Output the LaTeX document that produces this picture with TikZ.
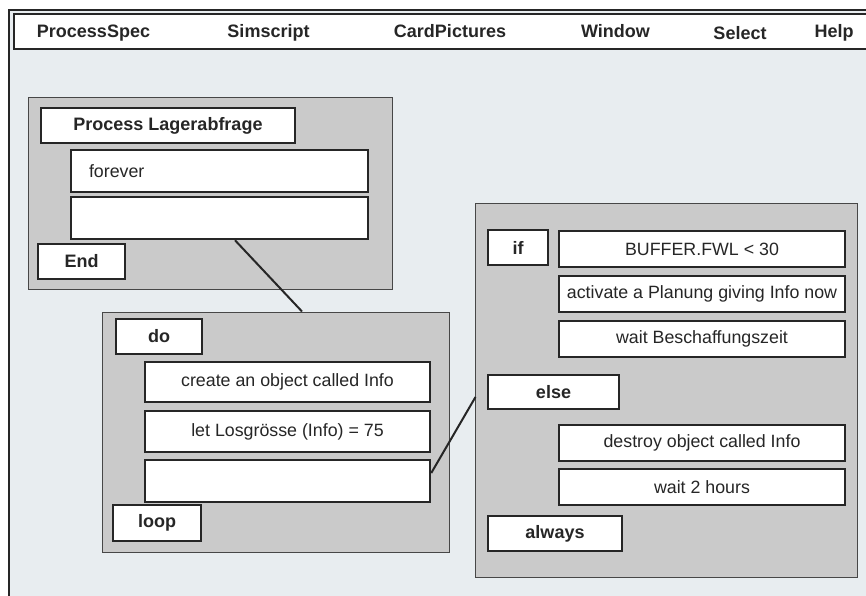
\documentclass[tikz,border=0pt]{standalone}
\usepackage{fontspec}
\setmainfont{Liberation Sans}
\usetikzlibrary{calc}
\definecolor{bgc}{HTML}{E8EDF0}
\definecolor{panelc}{HTML}{CACACA}
\definecolor{inkc}{HTML}{262626}
\tikzset{
  panel/.style={draw=inkc!85, line width=1pt, fill=panelc, inner sep=0pt},
  box/.style={draw=inkc, line width=2.5pt, fill=white, inner sep=0pt, text=inkc,
    font=\fontsize{17.8}{20}\selectfont},
  kw/.style={box, font=\bfseries\fontsize{18}{20}\selectfont},
  menu/.style={anchor=base, text=inkc, inner sep=0pt, font=\bfseries\fontsize{18}{20}\selectfont},
  wire/.style={draw=inkc, line width=2pt}
}
\begin{document}
\begin{tikzpicture}[x=1pt, y=-1pt]
\useasboundingbox (0,0) rectangle (866,596);
\clip (0,0) rectangle (866,596);
\fill[white] (0,0) rectangle (866,596);
% outer frame
\filldraw[fill=bgc, draw=inkc, line width=2pt] (9,10) rectangle (900,640);
% menu bar
\filldraw[fill=white, draw=inkc, line width=2.5pt] (14,14) rectangle (900,49);
\node[menu] (m1) at (93.5,38) {ProcessSpec};
\node[menu] (m2) at (268.5,38) {Simscript};
\node[menu] (m3) at (450,38) {CardPictures};
\node[menu] (m4) at (615.5,38) {Window};
\node[menu] (m5) at (740,40) {Select};
\node[menu] (m6) at (834,38) {Help};

% panel 1
\node[panel, minimum width=364, minimum height=191] (p1) at (210,193.5) {};
\node[kw, minimum width=254, minimum height=35] (title) at (168,125.5) {Process Lagerabfrage};
\node[box, text width=261, inner xsep=18pt, align=left, minimum height=42] (forever) at (219.5,171) {forever};
\node[box, minimum width=297, minimum height=42] (e1) at (219.5,218) {};
\node[kw, minimum width=87, minimum height=35] (end) at (81.5,261.5) {End};

% panel 2
\node[panel, minimum width=347, minimum height=240] (p2) at (275.5,432) {};
\node[kw, minimum width=86, minimum height=35] (do) at (159,336.5) {do};
\node[box, minimum width=285, minimum height=40] (create) at (287.5,382) {create an object called Info};
\node[box, minimum width=285, minimum height=41] (let) at (287.5,431.5) {let Losgrösse (Info) = 75};
\node[box, minimum width=285, minimum height=42] (e2) at (287.5,481) {};
\node[kw, minimum width=88, minimum height=36] (loop) at (157,523) {loop};

% panel 3
\node[panel, minimum width=382, minimum height=374] (p3) at (666,390) {};
\node[kw, minimum width=60, minimum height=35] (if) at (518,247.5) {if};
\node[box, minimum width=286, minimum height=36] (buf) at (702,249) {BUFFER.FWL < 30};
\node[box, minimum width=286, minimum height=36] (act) at (702,294) {activate a Planung giving Info now};
\node[box, minimum width=286, minimum height=36] (waitb) at (702,339) {wait Beschaffungszeit};
\node[kw, minimum width=131, minimum height=34] (else) at (553.5,392) {else};
\node[box, minimum width=286, minimum height=36] (destroy) at (702,443) {destroy object called Info};
\node[box, minimum width=286, minimum height=36] (wait2) at (702,487) {wait 2 hours};
\node[kw, minimum width=134, minimum height=35] (always) at (555,533.5) {always};

% connectors
\draw[wire] ($(e1.south)+(15.5,0)$) -- ($(p2.north)+(26.5,0)$);
\draw[wire] ($(e2.east)+(0,-8)$) -- ($(p3.west)+(1,7)$);
\end{tikzpicture}
\end{document}
